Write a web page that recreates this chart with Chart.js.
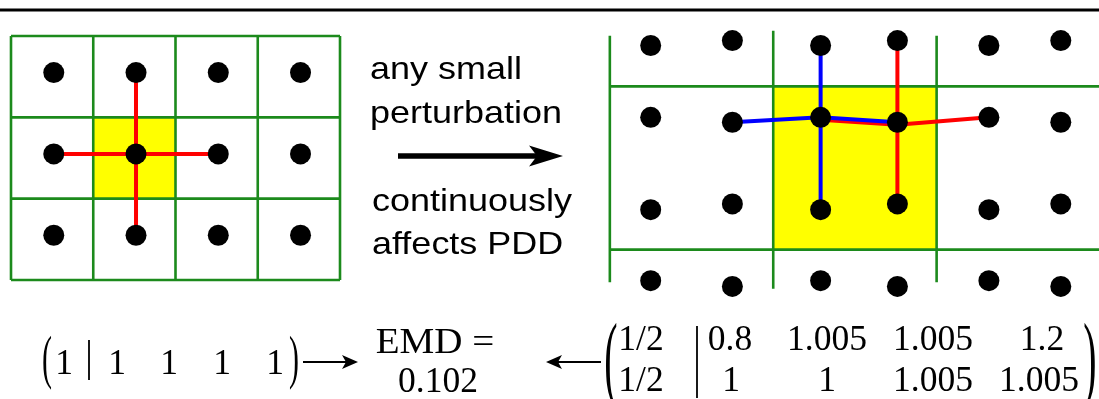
<!DOCTYPE html>
<html>
<head>
<meta charset="utf-8">
<script src="https://cdn.jsdelivr.net/npm/chart.js@4.4.1/dist/chart.umd.min.js"></script>
<style>
  html, body { margin: 0; padding: 0; background: #fff; }
  #page { position: relative; width: 1099px; height: 399px; overflow: hidden; background: #fff; }
  canvas { position: absolute; }
  #before { left: -1px; top: 24px; }
  #after { left: 569px; top: 21px; }
  svg { position: absolute; left: 0; top: 0; }
  .sans { font-family: "Liberation Sans", Arial, sans-serif; font-size: 32px; fill: #000; }
  .math { font-family: "Liberation Serif", "Times New Roman", serif; font-size: 35.5px; fill: #000; }
</style>
</head>
<body>
<div id="page">
  <canvas id="before" width="353" height="268"></canvas>
  <canvas id="after" width="531" height="294"></canvas>

  <svg width="1099" height="399" xmlns="http://www.w3.org/2000/svg">
    <line x1="0" y1="10" x2="1099" y2="10" stroke="#000" stroke-width="2.8"/>

    <!-- caption between the two lattices -->
    <g class="sans">
      <g transform="translate(370,79) scale(1.125,1)"><text>any small</text></g>
      <g transform="translate(370,123) scale(1.125,1)"><text>perturbation</text></g>
      <g transform="translate(372,211) scale(1.125,1)"><text>continuously</text></g>
      <g transform="translate(372,254) scale(1.125,1)"><text>affects PDD</text></g>
    </g>
    <line x1="398" y1="156" x2="540" y2="156" stroke="#000" stroke-width="5.5"/>
    <path d="M563,156 L529,145.5 L537,156 L529,166.5 Z" fill="#000"/>

    <!-- PDD of the square lattice -->
    <g class="math" text-anchor="middle">
      <g transform="translate(47,377) scale(0.5,1)"><text font-size="60">(</text></g>
      <text x="64" y="374">1</text>
      <text x="117" y="374">1</text>
      <text x="169" y="374">1</text>
      <text x="222" y="374">1</text>
      <text x="275" y="374">1</text>
      <g transform="translate(294,377) scale(0.5,1)"><text font-size="60">)</text></g>

      <g transform="translate(435,353) scale(1.1,1)"><text xml:space="preserve">EMD =</text></g>
      <text x="438" y="392">0.102</text>

      <!-- PDD of the perturbed lattice -->
      <g transform="translate(611,389) scale(0.42,1)"><text font-size="95">(</text></g>
      <text x="641" y="350">1/2</text>
      <text x="641" y="391">1/2</text>
      <text x="730" y="350">0.8</text>
      <text x="731" y="391">1</text>
      <text x="827" y="350">1.005</text>
      <text x="827" y="391">1</text>
      <text x="933" y="350">1.005</text>
      <text x="933" y="391">1.005</text>
      <text x="1042" y="350">1.2</text>
      <text x="1039" y="391">1.005</text>
      <g transform="translate(1090,389) scale(0.42,1)"><text font-size="95">)</text></g>
    </g>
    <line x1="89" y1="340" x2="89" y2="380" stroke="#000" stroke-width="1.8"/>
    <line x1="697" y1="326" x2="697" y2="398" stroke="#000" stroke-width="1.8"/>

    <line x1="303" y1="362" x2="348" y2="362" stroke="#000" stroke-width="2.2"/>
    <path d="M358,362 L342,355 L346,362 L342,369 Z" fill="#000"/>
    <line x1="556" y1="362" x2="601" y2="362" stroke="#000" stroke-width="2.2"/>
    <path d="M546,362 L562,355 L558,362 L562,369 Z" fill="#000"/>
  </svg>
</div>

<script>
/////////////////////////////
// Data
/////////////////////////////

// square lattice, one point per unit cell
const leftCols = [0, 1, 2, 3, 4];
const leftRows = [0, 1, 2, 3];
const leftDotX = [0.52, 1.52, 2.52, 3.52];
const leftDotY = [0.45, 1.45, 2.45];
const leftCell = [1, 1, 2, 2];
const leftCentre = { x: 1.52, y: 1.45 };
const leftNbrs = [{ x: 0.52, y: 1.45 }, { x: 2.52, y: 1.45 }, { x: 1.52, y: 0.45 }, { x: 1.52, y: 2.45 }];

// perturbed lattice, two points per (doubled) unit cell
const rightCols = [-0.75, -0.25, 0.29, 0.76, 1.32, 1.76];
const rightRowsA = [-0.25, 0.19, 0.755, 1.19];
const rightRowsB = [-0.28, 0.22, 0.72, 1.225];
const rightVLines = [[-1, -0.31, 1.20], [0, -0.34, 1.24], [1, -0.31, 1.20]];
const rightHLines = [0, 1];
const rightCell = [0, 0, 1, 1];
const blueCentre = { x: 0.29, y: 0.19 };
const blueNbrs = [{ x: 0.29, y: -0.25 }, { x: 0.29, y: 0.755 }, { x: -0.25, y: 0.22 }, { x: 0.76, y: 0.22 }];
const redCentre = { x: 0.76, y: 0.235 };
const redNbrs = [{ x: 0.76, y: -0.28 }, { x: 0.76, y: 0.72 }, { x: 1.32, y: 0.19 }, { x: 0.29, y: 0.205 }];

/////////////////////////////
// Helpers
/////////////////////////////

const GREEN = '#1c8a1c';

function seg(a, b, color, width, order) {
  return {
    data: [a, b], showLine: true, borderColor: color, borderWidth: width,
    pointRadius: 0, borderCapStyle: 'butt', clip: false, order: order
  };
}

function dots(points) {
  return {
    data: points, showLine: false, pointRadius: 10.5, pointHoverRadius: 10.5,
    pointBackgroundColor: '#000', pointBorderWidth: 0, clip: false, order: 0
  };
}

// yellow unit cell behind everything
const cellFill = {
  id: 'cellFill',
  beforeDatasetsDraw(chart, args, opts) {
    const { ctx, scales: { x, y } } = chart;
    const [x0, y0, x1, y1] = opts.cell;
    const px0 = x.getPixelForValue(x0), py0 = y.getPixelForValue(y0);
    ctx.save();
    ctx.fillStyle = '#ffff00';
    ctx.fillRect(px0, py0, x.getPixelForValue(x1) - px0, y.getPixelForValue(y1) - py0);
    ctx.restore();
  }
};

function lattice(canvasId, datasets, xr, yr, pad, cell) {
  return new Chart(document.getElementById(canvasId), {
    type: 'scatter',
    data: { datasets: datasets },
    plugins: [cellFill],
    options: {
      responsive: false,
      animation: false,
      events: [],
      layout: { padding: pad, autoPadding: false },
      plugins: { legend: { display: false }, tooltip: { enabled: false }, cellFill: { cell: cell } },
      scales: {
        x: { type: 'linear', display: false, min: xr[0], max: xr[1] },
        y: { type: 'linear', display: false, min: yr[0], max: yr[1], reverse: true }
      }
    }
  });
}

/////////////////////////////
// Left: square lattice
/////////////////////////////

const leftSets = [];
leftCols.forEach(c => leftSets.push(seg({ x: c, y: 0 }, { x: c, y: 3 }, GREEN, 2.6, 3)));
leftRows.forEach(r => leftSets.push(seg({ x: 0, y: r }, { x: 4, y: r }, GREEN, 2.6, 3)));
leftNbrs.forEach(n => leftSets.push(seg(leftCentre, n, '#ff0000', 4, 2)));
const leftPts = [];
leftDotY.forEach(y => leftDotX.forEach(x => leftPts.push({ x, y })));
leftSets.push(dots(leftPts));

lattice('before', leftSets, [0, 4], [0, 3], 12, leftCell);

/////////////////////////////
// Right: perturbed lattice
/////////////////////////////

const rightSets = [];
rightVLines.forEach(([x, y0, y1]) => rightSets.push(seg({ x, y: y0 }, { x, y: y1 }, GREEN, 2.6, 3)));
rightHLines.forEach(y => rightSets.push(seg({ x: -1, y }, { x: 2, y }, GREEN, 2.6, 3)));
redNbrs.forEach(n => rightSets.push(seg(redCentre, n, '#ff0000', 4, 2)));
blueNbrs.forEach(n => rightSets.push(seg(blueCentre, n, '#0000ff', 4, 1)));
const rightPts = [];
rightCols.forEach((x, i) => {
  const rows = i % 2 === 0 ? rightRowsA : rightRowsB;
  rows.forEach(y => rightPts.push({ x, y }));
});
rightSets.push(dots(rightPts));

lattice('after', rightSets, [-1.25, 2], [-0.4, 1.4], 0, rightCell);
</script>
</body>
</html>
